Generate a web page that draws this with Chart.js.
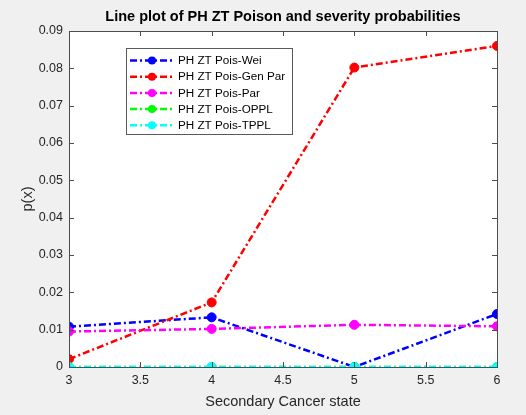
<!DOCTYPE html>
<html>
<head>
<meta charset="utf-8">
<script src="https://cdn.jsdelivr.net/npm/chart.js@4/dist/chart.umd.min.js"></script>
<style>
	html, body { margin: 0; padding: 0; background: #f0f0f0; }
	#plot { display: block; }
</style>
</head>
<body>
<canvas id="plot" width="526" height="415"></canvas>
<script>
"use strict";

// Secondary cancer states and the probability of each model
const states = [3, 4, 5, 6]
const poisWei = [0.0108, 0.0133, 0.0000, 0.0142]
const poisGenPar = [0.0021, 0.0173, 0.0802, 0.0860]
const poisPar = [0.0095, 0.0102, 0.0113, 0.0109]
const poisOPPL = [0, 0, 0, 0]
const poisTPPL = [0, 0, 0, 0]

const seriesNames = ['PH ZT Pois-Wei', 'PH ZT Pois-Gen Par', 'PH ZT Pois-Par', 'PH ZT Pois-OPPL', 'PH ZT Pois-TPPL']
const seriesColors = ['#0000ff', '#ff0000', '#ff00ff', '#00ff00', '#00ffff']

const xTicks = [3, 3.5, 4, 4.5, 5, 5.5, 6]
const yTicks = [0, 0.01, 0.02, 0.03, 0.04, 0.05, 0.06, 0.07, 0.08, 0.09]

const titleText = 'Line plot of PH ZT Poison and severity probabilities'
const FONT = '"Liberation Sans", Arial, sans-serif'
const AXIS = '#262626'
const BOX = '#4d4d4d'
const DASH = [7, 3, 2, 3]

function makeSeries(values, i) {
	return {
		label: seriesNames[i],
		data: states.map((s, k) => ({ x: s, y: values[k] })),
		borderColor: seriesColors[i],
		backgroundColor: seriesColors[i],
		borderWidth: 2.5,
		borderDash: DASH,
		pointRadius: 4.5,
		pointHoverRadius: 4.5,
		pointBorderWidth: 1,
		pointStyle: 'circle',
		tension: 0,
		// later series are drawn above earlier ones
		order: seriesNames.length - i
	}
}

// grey figure, white axes box, inward ticks, title and boxed legend
const matlabLook = {
	id: 'matlabLook',
	beforeDraw(chart) {
		const { ctx, chartArea: a } = chart
		ctx.save()
		ctx.fillStyle = '#f0f0f0'
		ctx.fillRect(0, 0, chart.width, chart.height)
		ctx.fillStyle = '#ffffff'
		ctx.fillRect(a.left, a.top, a.right - a.left, a.bottom - a.top)
		ctx.restore()
	},
	afterDatasetsDraw(chart) {
		const { ctx, chartArea: a, scales } = chart
		ctx.save()
		ctx.strokeStyle = BOX
		ctx.lineWidth = 1
		ctx.beginPath()
		xTicks.forEach(v => {
			const px = Math.round(scales.x.getPixelForValue(v)) + 0.5
			ctx.moveTo(px, a.bottom); ctx.lineTo(px, a.bottom - 5)
			ctx.moveTo(px, a.top); ctx.lineTo(px, a.top + 5)
		})
		yTicks.forEach(v => {
			const py = Math.round(scales.y.getPixelForValue(v)) + 0.5
			ctx.moveTo(a.left, py); ctx.lineTo(a.left + 5, py)
			ctx.moveTo(a.right, py); ctx.lineTo(a.right - 5, py)
		})
		ctx.stroke()
		ctx.strokeRect(Math.round(a.left) + 0.5, Math.round(a.top) + 0.5,
			Math.round(a.right - a.left), Math.round(a.bottom - a.top))

		// title
		ctx.fillStyle = '#000000'
		ctx.font = 'bold 14.5px ' + FONT
		ctx.textAlign = 'center'
		ctx.textBaseline = 'middle'
		ctx.fillText(titleText, (a.left + a.right) / 2, 17)

		// legend
		const lx = 126, ly = 48, lw = 166, lh = 86, rowGap = 16.2
		ctx.fillStyle = '#ffffff'
		ctx.fillRect(lx, ly, lw, lh)
		ctx.strokeStyle = '#5a5a5a'
		ctx.strokeRect(lx + 0.5, ly + 0.5, lw, lh)
		ctx.font = '11.7px ' + FONT
		ctx.textAlign = 'left'
		chart.data.datasets.forEach((ds, i) => {
			const cy = ly + 12.5 + i * rowGap
			ctx.strokeStyle = ds.borderColor
			ctx.lineWidth = 2.5
			ctx.setLineDash(DASH)
			ctx.beginPath()
			ctx.moveTo(130, cy); ctx.lineTo(175, cy)
			ctx.stroke()
			ctx.setLineDash([])
			ctx.fillStyle = ds.backgroundColor
			ctx.beginPath()
			ctx.arc(152, cy, 4, 0, Math.PI * 2)
			ctx.fill()
			ctx.fillStyle = '#000000'
			ctx.fillText(ds.label, 178, cy + 0.5)
		})
		ctx.restore()
	}
}

const chart = new Chart(document.getElementById('plot'), {
	type: 'line',
	data: {
		datasets: [
			makeSeries(poisWei, 0),
			makeSeries(poisGenPar, 1),
			makeSeries(poisPar, 2),
			makeSeries(poisOPPL, 3),
			makeSeries(poisTPPL, 4)
		]
	},
	options: {
		responsive: false,
		devicePixelRatio: 1,
		animation: false,
		layout: { padding: { left: 0, right: 29, top: 31, bottom: 0 } },
		plugins: {
			legend: { display: false },
			title: { display: false },
			tooltip: { enabled: false }
		},
		scales: {
			x: {
				type: 'linear',
				min: 3,
				max: 6,
				afterFit(scale) { scale.height = 48 },
				afterBuildTicks(scale) { scale.ticks = xTicks.map(v => ({ value: v })) },
				grid: { display: false, drawTicks: false },
				border: { display: false },
				ticks: {
					padding: 6,
					color: AXIS,
					font: { family: FONT, size: 12.5 },
					callback: v => String(v)
				},
				title: {
					display: true,
					text: 'Secondary Cancer state',
					color: AXIS,
					font: { family: FONT, size: 14.5 },
					padding: { top: 0, bottom: 4 }
				}
			},
			y: {
				min: 0,
				max: 0.09,
				afterFit(scale) { scale.width = 69 },
				afterBuildTicks(scale) { scale.ticks = yTicks.map(v => ({ value: v })) },
				grid: { display: false, drawTicks: false },
				border: { display: false },
				ticks: {
					padding: 6,
					color: AXIS,
					font: { family: FONT, size: 12.5 },
					callback: v => v === 0 ? '0' : v.toFixed(2)
				},
				title: {
					display: true,
					text: 'p(x)',
					color: AXIS,
					font: { family: FONT, size: 14.5 },
					padding: { top: 19, bottom: 0 }
				}
			}
		}
	},
	plugins: [matlabLook]
})
</script>
</body>
</html>
